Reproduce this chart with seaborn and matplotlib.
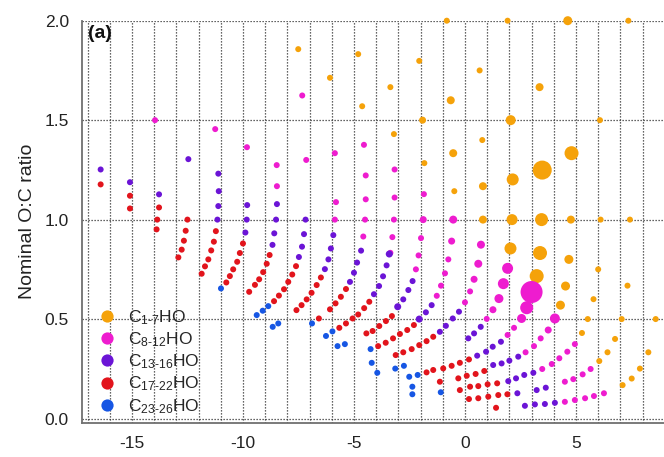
import numpy as np
import pandas as pd
import matplotlib
matplotlib.use("Agg")
import matplotlib.pyplot as plt
from matplotlib.lines import Line2D
from matplotlib.ticker import MultipleLocator, FormatStrFormatter
import seaborn as sns

# ---- data: log10 C* (x), nominal O:C (y), marker diameter (px) per carbon class ----
groups = ["C1-7", "C8-12", "C13-16", "C17-22", "C23-26"]
legend_labels = [r"C$_{1\text{-}7}$HO", r"C$_{8\text{-}12}$HO", r"C$_{13\text{-}16}$HO",
                 r"C$_{17\text{-}22}$HO", r"C$_{23\text{-}26}$HO"]
colors = ["#F5A20A", "#EE1CCF", "#6B14D6", "#E2141C", "#1656E4"]

c1_7_x = [-7.51, -6.08, -4.81, -4.63, -3.36, -3.20, -2.06, -1.91, -1.83, -0.82,
          -0.64, -0.53, -0.48, 0.66, 0.78, 0.81, 0.81, 1.92, 2.06, 2.15,
          2.12, 2.05, 3.36, 3.48, 3.45, 3.38, 3.23, 4.63, 4.80, 4.77,
          4.68, 4.53, 4.30, 6.08, 6.11, 6.00, 5.79, 5.53, 5.27, 7.36,
          7.43, 7.32, 7.06, 6.76, 6.42, 6.05, 8.59, 8.26, 7.88, 7.51, 7.10]
c1_7_y = [1.857, 1.713, 1.832, 1.570, 1.666, 1.430, 1.798, 1.500, 1.284, 2.000,
          1.600, 1.334, 1.143, 1.750, 1.400, 1.168, 1.000, 2.000, 1.500, 1.202,
          1.000, 0.855, 1.666, 1.249, 1.000, 0.832, 0.716, 2.000, 1.334, 1.000,
          0.800, 0.666, 0.570, 1.500, 1.000, 0.750, 0.600, 0.500, 0.430, 2.000,
          1.000, 0.668, 0.500, 0.400, 0.333, 0.289, 0.500, 0.333, 0.251, 0.201, 0.168]
c1_7_d = [6, 6, 6, 6, 6, 6, 6, 7, 6, 6,
          8, 8, 6, 6, 6, 8, 8, 6, 10, 12,
          11, 12, 8, 19, 13, 14, 14, 9, 14, 8,
          9, 9, 9, 6, 6, 6, 6, 6, 6, 6,
          6, 6, 6, 6, 6, 6, 6, 6, 6, 6, 6]

c8_12_x = [-13.96, -11.25, -9.82, -8.48, -8.47, -7.33, -7.15, -5.86, -5.81, -5.86,
           -4.55, -4.47, -4.47, -4.50, -4.58, -3.17, -3.17, -3.20, -3.27, -3.36,
           -1.85, -1.88, -1.98, -2.09, -2.21, -0.53, -0.60, -0.75, -0.90, -1.08,
           -1.27, 0.72, 0.60, 0.41, 0.23, 0.00, 1.92, 1.73, 1.53, 1.26,
           0.98, 3.00, 2.78, 2.55, 2.21, 1.92, 4.05, 3.75, 3.41, 3.11,
           2.73, 4.95, 4.61, 4.25, 3.91, 3.48, 5.66, 5.30, 4.88, 4.50,
           6.26, 5.81, 5.41, 4.95, 4.50]
c8_12_y = [1.500, 1.455, 1.364, 1.274, 1.168, 1.624, 1.300, 1.334, 1.088, 1.000,
           1.376, 1.222, 1.102, 1.000, 0.915, 1.252, 1.111, 1.000, 0.912, 0.833,
           1.128, 1.000, 0.907, 0.820, 0.750, 1.000, 0.892, 0.800, 0.730, 0.668,
           0.617, 0.874, 0.778, 0.700, 0.639, 0.584, 0.755, 0.678, 0.603, 0.547,
           0.501, 0.636, 0.557, 0.503, 0.456, 0.420, 0.503, 0.445, 0.403, 0.364,
           0.333, 0.374, 0.336, 0.303, 0.274, 0.249, 0.249, 0.222, 0.198, 0.185,
           0.127, 0.113, 0.102, 0.093, 0.084]
c8_12_d = [6, 6, 6, 6, 6, 6, 6, 6, 6, 6,
           6, 6, 6, 6, 6, 6, 6, 6, 6, 6,
           6, 7, 6, 6, 6, 8, 7, 6, 6, 6,
           6, 8, 8, 7, 6, 6, 11, 11, 9, 7,
           6, 22, 13, 9, 6, 6, 10, 7, 6, 6,
           6, 6, 6, 6, 6, 6, 6, 6, 6, 6,
           6, 6, 6, 6, 6]

c13_16_x = [-16.41, -15.09, -13.78, -12.46, -11.11, -11.09, -11.11, -11.15, -9.81, -9.83,
            -9.89, -8.47, -8.51, -8.59, -8.67, -7.18, -7.25, -7.34, -7.48, -5.93,
            -6.04, -6.15, -6.31, -4.68, -4.86, -5.00, -5.18, -3.41, -3.53, -3.69,
            -3.87, -4.10, -2.36, -2.55, -2.78, -3.03, -1.50, -1.76, -2.06, -0.27,
            -0.55, -0.86, -1.13, 0.71, 0.41, 0.15, 1.62, 1.25, 0.95, 0.55,
            2.00, 1.65, 1.27, 2.40, 2.30, 2.67, 3.08, 1.95, 2.36, 3.23,
            3.64, 2.70, 3.15, 3.60, 4.05]
c13_16_y = [1.252, 1.188, 1.127, 1.304, 1.231, 1.143, 1.068, 1.000, 1.073, 1.000,
            0.935, 1.078, 1.000, 0.931, 0.873, 1.000, 0.927, 0.864, 0.812, 0.922,
            0.855, 0.800, 0.751, 0.844, 0.784, 0.733, 0.687, 0.827, 0.770, 0.715,
            0.666, 0.625, 0.691, 0.646, 0.599, 0.562, 0.570, 0.534, 0.500, 0.537,
            0.503, 0.466, 0.436, 0.461, 0.428, 0.403, 0.386, 0.361, 0.336, 0.316,
            0.291, 0.277, 0.269, 0.311, 0.202, 0.219, 0.230, 0.188, 0.127, 0.143,
            0.155, 0.064, 0.071, 0.073, 0.079]
c13_16_d = [6] * 27 + [7] + [6] * 7 + [7] + [6] * 2 + [7] + [6] * 26

c17_22_x = [-16.41, -15.09, -15.09, -13.78, -13.86, -13.89, -12.50, -12.58, -12.66, -12.76,
            -12.91, -11.22, -11.31, -11.43, -11.56, -11.71, -11.86, -10.00, -10.14, -10.26,
            -10.44, -10.59, -10.75, -8.80, -8.93, -9.09, -9.27, -9.46, -9.72, -7.61,
            -7.78, -7.96, -8.15, -8.38, -8.60, -6.49, -6.68, -6.91, -7.13, -7.36,
            -7.59, -6.58, -5.36, -5.59, -5.83, -6.08, -4.31, -4.54, -4.81, -5.06,
            -5.36, -5.66, -3.29, -3.56, -3.86, -4.16, -4.44, -2.30, -2.60, -2.93,
            -3.24, -3.57, -3.91, -1.43, -1.73, -2.06, -2.40, -2.78, -3.12, 0.18,
            -0.23, -0.60, -0.98, -1.43, -1.73, 0.87, 0.48, 0.08, -0.30, -1.13,
            1.45, 1.02, 0.60, 0.23, -0.23, 1.91, 1.50, 1.05, 0.60, 0.18, 1.40]
c17_22_y = [1.177, 1.120, 1.056, 1.061, 1.000, 0.951, 1.000, 0.944, 0.894, 0.849,
            0.810, 0.942, 0.889, 0.845, 0.800, 0.765, 0.728, 0.880, 0.832, 0.788,
            0.750, 0.716, 0.684, 0.822, 0.778, 0.736, 0.700, 0.672, 0.637, 0.766,
            0.724, 0.687, 0.650, 0.618, 0.590, 0.709, 0.671, 0.632, 0.599, 0.570,
            0.545, 0.503, 0.651, 0.612, 0.579, 0.549, 0.587, 0.555, 0.523, 0.503,
            0.478, 0.456, 0.515, 0.490, 0.465, 0.440, 0.428, 0.470, 0.445, 0.425,
            0.403, 0.381, 0.364, 0.411, 0.389, 0.369, 0.349, 0.333, 0.319, 0.297,
            0.280, 0.265, 0.252, 0.244, 0.232, 0.239, 0.224, 0.215, 0.202, 0.185,
            0.177, 0.172, 0.163, 0.160, 0.143, 0.122, 0.118, 0.110, 0.102, 0.098, 0.054]
c17_22_d = [6] * len(c17_22_x)

c23_26_x = [-10.99, -9.38, -9.11, -8.86, -8.66, -8.41, -6.89, -6.26, -5.97, -5.74,
            -5.41, -4.25, -4.20, -3.95, -3.14, -2.75, -2.51, -2.13, -2.37, -2.37, -1.09]
c23_26_y = [0.654, 0.520, 0.542, 0.565, 0.461, 0.478, 0.478, 0.415, 0.438, 0.364,
            0.374, 0.349, 0.280, 0.230, 0.251, 0.265, 0.210, 0.219, 0.160, 0.122, 0.132]
c23_26_d = [6] * len(c23_26_x)

series = {
    "C1-7": (c1_7_x, c1_7_y, c1_7_d),
    "C8-12": (c8_12_x, c8_12_y, c8_12_d),
    "C13-16": (c13_16_x, c13_16_y, c13_16_d),
    "C17-22": (c17_22_x, c17_22_y, c17_22_d),
    "C23-26": (c23_26_x, c23_26_y, c23_26_d),
}
frames = []
for g, (xs, ys, ds) in series.items():
    frames.append(pd.DataFrame({"log_cstar": xs, "oc": ys, "diam": ds, "group": g}))
df = pd.concat(frames, ignore_index=True)

# ---- figure ----
sns.set_theme(style="white")
plt.rcParams["font.family"] = ["Liberation Sans", "DejaVu Sans"]
plt.rcParams["mathtext.fontset"] = "custom"
plt.rcParams["mathtext.rm"] = "Liberation Sans"
plt.rcParams["mathtext.default"] = "regular"
plt.rcParams["axes.unicode_minus"] = False

fig = plt.figure(figsize=(6.64, 4.57), dpi=100)
ax = fig.add_axes([82 / 664, 34.3 / 457, 1 - 82 / 664, 402.0 / 457])

size_map = {d: (d * 0.72) ** 2 for d in sorted(df["diam"].unique())}
sns.scatterplot(data=df, x="log_cstar", y="oc", hue="group", hue_order=groups,
                palette=colors, size="diam", sizes=size_map, linewidth=0,
                legend=False, ax=ax, clip_on=False, zorder=3)

ax.set_xlim(-17.25, 8.965)
ax.set_ylim(-0.021, 2.0)

ax.xaxis.set_major_locator(MultipleLocator(5))
ax.xaxis.set_minor_locator(MultipleLocator(1))
ax.yaxis.set_major_locator(MultipleLocator(0.5))
ax.yaxis.set_major_formatter(FormatStrFormatter("%.1f"))

grid_kw = dict(color="#333333", linestyle=(0, (1.0, 1.4)), linewidth=0.9)
ax.grid(True, which="both", axis="x", **grid_kw)
ax.grid(True, which="major", axis="y", **grid_kw)
ax.set_axisbelow(True)

for side in ("top", "right"):
    ax.spines[side].set_visible(False)
for side in ("left", "bottom"):
    ax.spines[side].set_color("#707070")
    ax.spines[side].set_linewidth(1.3)

ax.tick_params(axis="both", which="major", direction="out", length=6.5, width=1.0,
               color="#707070", labelsize=12.5, labelcolor="#222222", pad=3)
ax.tick_params(axis="x", which="minor", direction="out", length=3.2, width=1.0,
               color="#707070")
ax.tick_params(axis="y", which="minor", length=0)

ax.set_xlabel("")
ax.set_ylabel("Nominal O:C ratio", fontsize=14, color="#222222", labelpad=6)

ax.text(0.01, 0.99, "(a)", transform=ax.transAxes, fontsize=14, fontweight="bold",
        va="top", ha="left", color="#111111")

handles = [Line2D([], [], marker="o", linestyle="", markersize=8.8, color=c,
                  markeredgewidth=0) for c in colors]
ax.legend(handles, legend_labels, loc="upper left", bbox_to_anchor=(0.0, 0.315),
          frameon=False, fontsize=12.5, handletextpad=0.45, labelspacing=0.2,
          handlelength=1.5, borderaxespad=0.3)

fig.savefig("out.png", dpi=100)
